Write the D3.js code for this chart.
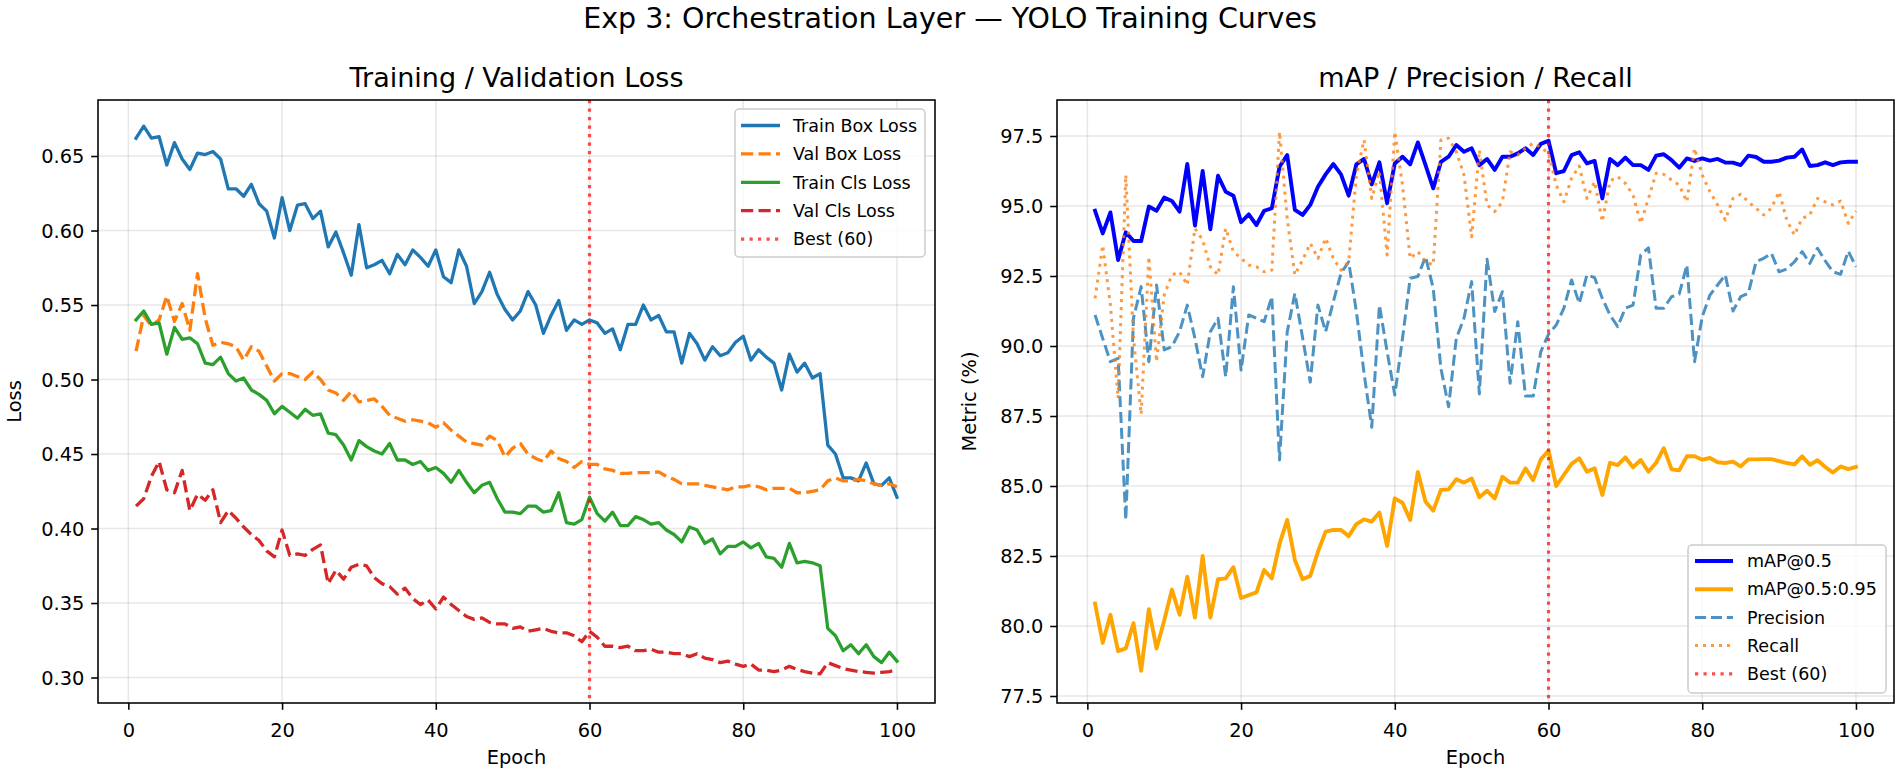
<!DOCTYPE html>
<html><head><meta charset="utf-8">
<script src="https://cdn.jsdelivr.net/npm/d3@7/dist/d3.min.js"></script>
<style>
body{margin:0;background:#fff}
svg{display:block}
text{font-family:"DejaVu Sans",sans-serif;fill:#000}
</style></head>
<body><svg id="c" width="1900" height="773"></svg>
<script>
// ---------------- DATA ----------------
const epochs = [1,2,3,4,5,6,7,8,9,10,11,12,13,14,15,16,17,18,19,20,21,22,23,24,25,26,27,28,29,30,31,32,33,34,35,36,37,38,39,40,41,42,43,44,45,46,47,48,49,50,51,52,53,54,55,56,57,58,59,60,61,62,63,64,65,66,67,68,69,70,71,72,73,74,75,76,77,78,79,80,81,82,83,84,85,86,87,88,89,90,91,92,93,94,95,96,97,98,99,100];

const trainBoxLoss = [0.662,0.670,0.662,0.663,0.644,0.659,0.648,0.641,0.652,0.651,0.653,0.648,0.628,0.628,0.623,0.631,0.618,0.613,0.595,0.622,
0.600,0.617,0.618,0.608,0.613,0.589,0.599,0.585,0.570,0.604,0.575,0.577,0.580,0.571,0.584,0.577,0.587,0.582,0.576,0.587,
0.569,0.565,0.587,0.576,0.551,0.559,0.572,0.557,0.547,0.540,0.546,0.559,0.550,0.531,0.543,0.553,0.533,0.540,0.537,0.540,
0.538,0.531,0.534,0.520,0.537,0.537,0.550,0.540,0.543,0.532,0.532,0.511,0.531,0.524,0.513,0.522,0.516,0.518,0.525,0.529,
0.513,0.520,0.515,0.511,0.493,0.517,0.505,0.511,0.501,0.504,0.456,0.450,0.434,0.434,0.432,0.444,0.430,0.429,0.434,0.421];

const valBoxLoss = [0.519,0.543,0.536,0.540,0.556,0.539,0.551,0.533,0.571,0.541,0.523,0.525,0.524,0.522,0.513,0.522,0.519,0.509,0.499,0.504,
0.504,0.502,0.500,0.505,0.500,0.493,0.491,0.486,0.492,0.485,0.486,0.487,0.482,0.476,0.474,0.472,0.473,0.472,0.471,0.468,
0.471,0.466,0.462,0.458,0.457,0.456,0.462,0.459,0.448,0.454,0.457,0.450,0.447,0.445,0.452,0.447,0.445,0.441,0.445,0.443,
0.443,0.440,0.439,0.437,0.437,0.4375,0.4375,0.4375,0.438,0.435,0.433,0.430,0.430,0.430,0.429,0.428,0.427,0.426,0.428,0.428,
0.429,0.428,0.426,0.427,0.427,0.427,0.424,0.424,0.425,0.426,0.432,0.434,0.432,0.432,0.433,0.432,0.430,0.429,0.430,0.428];

const trainClsLoss = [0.540,0.546,0.537,0.538,0.517,0.535,0.527,0.528,0.524,0.511,0.510,0.515,0.504,0.499,0.501,0.493,0.490,0.486,0.477,0.482,
0.478,0.474,0.480,0.476,0.477,0.464,0.463,0.456,0.446,0.459,0.455,0.452,0.450,0.457,0.446,0.446,0.443,0.445,0.439,0.441,
0.437,0.431,0.439,0.431,0.424,0.429,0.431,0.420,0.411,0.411,0.410,0.415,0.415,0.411,0.412,0.424,0.404,0.403,0.406,0.421,
0.410,0.405,0.411,0.402,0.402,0.408,0.406,0.403,0.404,0.399,0.396,0.391,0.401,0.399,0.390,0.393,0.383,0.388,0.388,0.391,
0.387,0.390,0.381,0.380,0.374,0.390,0.377,0.378,0.377,0.375,0.333,0.328,0.318,0.322,0.316,0.322,0.314,0.310,0.317,0.311];

const valClsLoss = [0.415,0.420,0.435,0.445,0.426,0.424,0.439,0.412,0.423,0.419,0.426,0.404,0.412,0.407,0.401,0.396,0.392,0.385,0.381,0.399,
0.382,0.383,0.382,0.386,0.389,0.363,0.372,0.366,0.374,0.376,0.375,0.367,0.363,0.361,0.356,0.360,0.353,0.349,0.352,0.346,
0.354,0.349,0.345,0.341,0.339,0.340,0.337,0.336,0.336,0.333,0.334,0.331,0.332,0.333,0.331,0.330,0.330,0.328,0.324,0.331,
0.327,0.321,0.321,0.320,0.321,0.318,0.318,0.319,0.317,0.317,0.316,0.316,0.314,0.316,0.313,0.312,0.310,0.311,0.309,0.3075,
0.309,0.305,0.305,0.304,0.305,0.3075,0.3055,0.304,0.303,0.3025,0.310,0.308,0.306,0.305,0.304,0.3035,0.303,0.3035,0.304,0.305];

const map50 = [94.83,94.02,94.77,93.07,94.06,93.75,93.75,94.98,94.83,95.30,95.18,94.80,96.50,94.30,96.25,94.17,96.08,95.51,95.37,94.42,
94.70,94.32,94.83,94.92,96.40,96.82,94.86,94.68,95.04,95.69,96.13,96.50,96.13,95.37,96.49,96.68,95.77,96.56,95.10,96.52,
96.76,96.49,97.27,96.46,95.63,96.58,96.76,97.18,96.94,97.06,96.46,96.68,96.29,96.76,96.76,96.88,97.06,96.82,97.22,97.33,
96.17,96.25,96.82,96.92,96.52,96.61,95.27,96.68,96.46,96.73,96.46,96.46,96.29,96.80,96.85,96.64,96.37,96.70,96.61,96.70,
96.62,96.68,96.55,96.55,96.46,96.80,96.75,96.58,96.58,96.62,96.73,96.76,97.02,96.43,96.46,96.56,96.46,96.56,96.58,96.58];

const map5095 = [80.8,79.4,80.4,79.1,79.2,80.1,78.4,80.6,79.2,80.2,81.3,80.4,81.76,80.3,82.5,80.3,81.67,81.7,82.1,81.0,
81.1,81.2,82.0,81.7,82.93,83.79,82.36,81.67,81.79,82.65,83.37,83.43,83.43,83.21,83.64,83.81,83.73,84.05,82.86,84.56,
84.40,83.79,85.5,84.44,84.12,84.86,84.88,85.24,85.12,85.27,84.6,84.83,84.56,85.33,85.12,85.12,85.63,85.21,85.95,86.26,
85.0,85.4,85.79,85.99,85.51,85.63,84.68,85.83,85.75,86.02,85.67,85.93,85.51,85.83,86.35,85.6,85.56,86.06,86.06,85.94,
86.0,85.85,85.82,85.87,85.7,85.95,85.95,85.96,85.96,85.89,85.82,85.77,86.06,85.76,85.92,85.68,85.48,85.7,85.6,85.68];

const precision = [91.11,90.27,89.44,89.56,83.79,91.0,92.12,89.44,92.18,89.86,89.98,90.51,91.46,90.27,88.9,90.51,90.99,88.9,92.12,89.14,
91.11,90.99,90.87,91.76,85.93,90.5,91.88,90.3,88.71,91.46,90.51,91.58,92.6,93.01,91.23,89.03,87.1,91.46,89.8,88.25,
90.27,92.42,92.48,93.19,92.06,89.2,87.83,90.27,90.99,92.30,88.29,93.1,91.23,91.94,88.67,90.87,88.21,88.21,89.8,90.42,
90.75,91.35,92.36,91.52,92.54,92.44,91.70,91.11,90.69,91.35,91.46,93.25,93.51,91.35,91.35,91.76,91.85,92.89,89.44,91.05,
91.82,92.18,92.54,91.25,91.76,91.88,93.01,93.13,93.31,92.65,92.75,93.01,93.37,92.95,93.49,93.04,92.65,92.56,93.39,92.83];

const recall = [91.7,93.6,91.46,88.13,96.11,90.3,87.56,93.19,89.44,91.82,92.54,92.65,92.18,94.2,93.79,92.83,92.54,94.2,93.37,93.13,
92.89,92.83,92.65,92.71,97.65,94.56,92.54,93.07,93.67,93.13,93.85,93.13,92.71,93.01,96.11,97.36,95.27,96.23,93.25,97.65,
95.75,93.13,93.37,93.01,92.89,97.36,97.42,96.94,96.11,93.90,97.0,95.04,94.80,95.15,96.94,96.82,97.06,97.24,97.1,96.88,
95.75,95.15,95.99,96.43,95.27,95.87,94.44,95.89,96.05,95.81,95.39,94.38,95.27,96.17,96.13,95.93,95.75,95.15,97.06,96.11,
95.51,95.04,94.5,95.27,95.42,95.15,94.92,94.68,94.92,95.51,94.5,93.96,94.56,94.68,95.27,95.15,95.04,95.18,94.38,94.82];

const bestEpoch = 60;
const epochTicks = [0,20,40,60,80,100];
const lossTicks = [0.30,0.35,0.40,0.45,0.50,0.55,0.60,0.65];
const metricTicks = [77.5,80.0,82.5,85.0,87.5,90.0,92.5,95.0,97.5];

// ---------------- DRAW ----------------
const svg = d3.select('#c');
const FONT = '"DejaVu Sans", sans-serif';
const TICK_FS = 19.4;

svg.append('text').attr('x', 950).attr('y', 28).attr('text-anchor','middle')
  .attr('font-size', 28.5).text('Exp 3: Orchestration Layer \u2014 YOLO Training Curves');

function panel(o){
  const g = svg.append('g');
  const x = d3.scaleLinear().domain([-3.95, 104.95]).range([o.left, o.right]);
  const y = d3.scaleLinear().domain(o.yDomain).range([o.bottom, o.top]);
  const cx = (o.left + o.right) / 2;

  // grid
  g.append('g').selectAll('line').data(epochTicks).join('line')
    .attr('x1', d => x(d)).attr('x2', d => x(d)).attr('y1', o.top).attr('y2', o.bottom)
    .attr('stroke', '#b0b0b0').attr('stroke-opacity', 0.3).attr('stroke-width', 1.56);
  g.append('g').selectAll('line').data(o.yTicks).join('line')
    .attr('y1', d => y(d)).attr('y2', d => y(d)).attr('x1', o.left).attr('x2', o.right)
    .attr('stroke', '#b0b0b0').attr('stroke-opacity', 0.3).attr('stroke-width', 1.56);

  const clipId = 'clip' + o.id;
  svg.append('clipPath').attr('id', clipId).append('rect')
    .attr('x', o.left).attr('y', o.top).attr('width', o.right - o.left).attr('height', o.bottom - o.top);
  const lines = g.append('g').attr('clip-path', `url(#${clipId})`);
  const lineGen = d3.line().x((d, i) => x(epochs[i])).y(d => y(d));

  o.series.forEach(s => {
    lines.append('path').datum(s.values)
      .attr('d', lineGen).attr('fill', 'none')
      .attr('stroke', s.color).attr('stroke-opacity', s.opacity || 1)
      .attr('stroke-width', s.width)
      .attr('stroke-dasharray', s.dash || null)
      .attr('stroke-linejoin', 'round')
      .attr('stroke-linecap', s.dash ? 'butt' : 'square');
  });
  // best epoch line
  lines.append('line').attr('x1', x(bestEpoch)).attr('x2', x(bestEpoch))
    .attr('y1', o.top).attr('y2', o.bottom)
    .attr('stroke', 'red').attr('stroke-opacity', 0.7).attr('stroke-width', 3.2)
    .attr('stroke-dasharray', '3.2,5.3');

  // spines
  g.append('rect').attr('x', o.left).attr('y', o.top)
    .attr('width', o.right - o.left).attr('height', o.bottom - o.top)
    .attr('fill', 'none').attr('stroke', '#000').attr('stroke-width', 1.56);

  // axes
  const ax = g.append('g').attr('transform', `translate(0,${o.bottom})`)
    .call(d3.axisBottom(x).tickValues(epochTicks).tickSize(6.8).tickPadding(6.8).tickFormat(d3.format('d')));
  ax.select('.domain').remove();
  ax.attr('font-family', FONT).attr('font-size', TICK_FS);
  ax.selectAll('line').attr('stroke', '#000').attr('stroke-width', 1.56);
  ax.selectAll('text').attr('y', 34).attr('dy', null).attr('fill', '#000');

  const ay = g.append('g').attr('transform', `translate(${o.left},0)`)
    .call(d3.axisLeft(y).tickValues(o.yTicks).tickSize(6.8).tickPadding(6.8).tickFormat(o.fmt));
  ay.select('.domain').remove();
  ay.attr('font-family', FONT).attr('font-size', TICK_FS);
  ay.selectAll('line').attr('stroke', '#000').attr('stroke-width', 1.56);
  ay.selectAll('text').attr('dy', '0.35em').attr('fill', '#000');

  // titles & labels
  g.append('text').attr('x', cx).attr('y', 87).attr('text-anchor', 'middle')
    .attr('font-size', 27).text(o.title);
  g.append('text').attr('x', cx).attr('y', 764).attr('text-anchor', 'middle')
    .attr('font-size', TICK_FS).text('Epoch');
  g.append('text').attr('transform', `translate(${o.left - o.ylabOff},${(o.top + o.bottom) / 2}) rotate(-90)`)
    .attr('text-anchor', 'middle').attr('font-size', TICK_FS).text(o.ylabel);

  // legend
  const L = o.legend;
  const lg = g.append('g');
  lg.append('rect').attr('x', L.x).attr('y', L.y).attr('width', L.w).attr('height', L.h)
    .attr('rx', 4).attr('ry', 4).attr('fill', '#fff').attr('fill-opacity', 0.8)
    .attr('stroke', '#cccccc').attr('stroke-width', 1.5);
  const items = o.series.map(s => ({label: s.label, color: s.color, width: s.width, dash: s.dash, opacity: s.opacity}))
    .concat([{label: 'Best (' + bestEpoch + ')', color: 'red', width: 3.2, dash: '3.2,5.3', opacity: 0.7}]);
  items.forEach((it, i) => {
    const cy = L.row0 + i * L.rowStep;
    lg.append('line').attr('x1', L.lx1).attr('x2', L.lx2).attr('y1', cy).attr('y2', cy)
      .attr('stroke', it.color).attr('stroke-opacity', it.opacity || 1)
      .attr('stroke-width', it.width).attr('stroke-dasharray', it.dash || null);
    lg.append('text').attr('x', L.tx).attr('y', cy + 6.2).attr('font-size', 17.5).text(it.label);
  });
}

panel({
  id: 'L', left: 98, right: 935, top: 100, bottom: 703,
  yDomain: [0.2829, 0.6876], yTicks: lossTicks, fmt: d3.format('.2f'),
  title: 'Training / Validation Loss', ylabel: 'Loss', ylabOff: 77,
  series: [
    {label: 'Train Box Loss', values: trainBoxLoss, color: '#1f77b4', width: 3.3},
    {label: 'Val Box Loss', values: valBoxLoss, color: '#ff7f0e', width: 3.3, dash: '12.2,5.3'},
    {label: 'Train Cls Loss', values: trainClsLoss, color: '#2ca02c', width: 3.3},
    {label: 'Val Cls Loss', values: valClsLoss, color: '#d62728', width: 3.3, dash: '12.2,5.3'}
  ],
  legend: {x: 735, y: 109, w: 190, h: 148, row0: 125.5, rowStep: 28.4, lx1: 741, lx2: 780, tx: 793}
});

panel({
  id: 'R', left: 1057, right: 1894, top: 100, bottom: 703,
  yDomain: [77.25, 98.786], yTicks: metricTicks, fmt: d3.format('.1f'),
  title: 'mAP / Precision / Recall', ylabel: 'Metric (%)', ylabOff: 81,
  series: [
    {label: 'mAP@0.5', values: map50, color: '#0000ff', width: 3.9},
    {label: 'mAP@0.5:0.95', values: map5095, color: '#ffa500', width: 3.9},
    {label: 'Precision', values: precision, color: '#1f77b4', width: 3.0, dash: '11.1,4.8', opacity: 0.8},
    {label: 'Recall', values: recall, color: '#ff7f0e', width: 3.0, dash: '3,5', opacity: 0.8}
  ],
  legend: {x: 1688, y: 545, w: 198, h: 148, row0: 561, rowStep: 28.2, lx1: 1695, lx2: 1733, tx: 1747}
});
</script>
</body></html>
